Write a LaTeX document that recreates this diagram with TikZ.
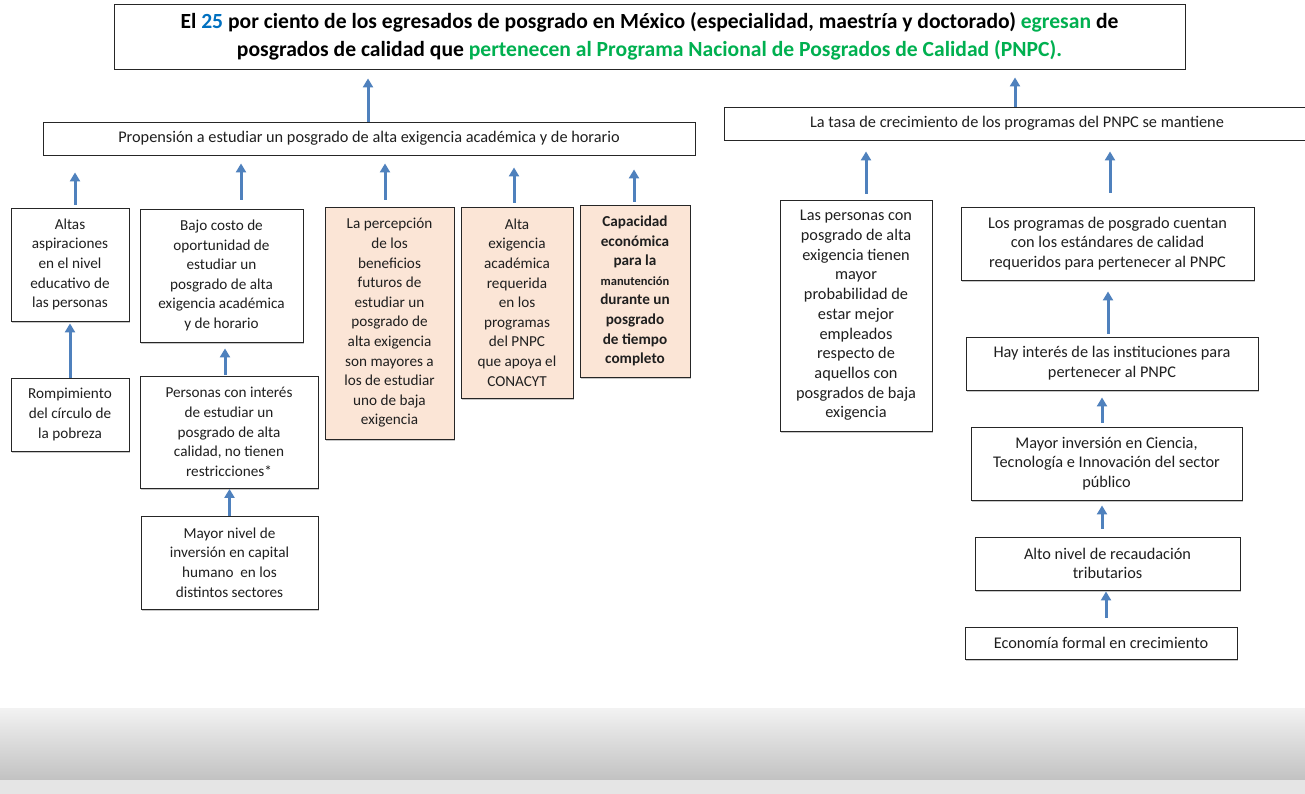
\documentclass[tikz,border=0pt]{standalone}
\usepackage{fontspec}
\setmainfont{Carlito}
\usetikzlibrary{arrows.meta,shadows}
\definecolor{arrowblue}{RGB}{79,129,189}
\definecolor{peach}{RGB}{251,229,214}
\definecolor{tblue}{RGB}{0,112,192}
\definecolor{tgreen}{RGB}{0,176,80}
\begin{document}
\begin{tikzpicture}[x=1pt,y=-1pt,
  box/.style={draw=black!85, line width=0.9pt, fill=white, inner sep=0pt, align=center,
    text=black!88, drop shadow={shadow xshift=1pt, shadow yshift=-1.5pt, fill=black, opacity=0.22}},
  small/.style={font=\fontsize{15.2}{19.6}\selectfont},
  mid/.style={font=\fontsize{16.3}{19.7}\selectfont},
  peachbox/.style={box, fill=peach},
  arr/.style={draw=arrowblue, line width=3pt, -{Triangle[width=10pt,length=9pt]}}
]
\useasboundingbox (0,0) rectangle (1305,794);
\fill[white] (0,0) rectangle (1305,794);
% bottom band
\shade[top color=black!5, bottom color=black!24] (0,708) rectangle (1305,780);
\fill[black!10] (0,780) rectangle (1305,794);

% title
\node[box, minimum width=1071, minimum height=65, text=black, font=\fontsize{21.6}{28}\selectfont\bfseries] (title) at (649.5,36.5)
 {El \textcolor{tblue}{25} por ciento de los egresados de posgrado en México (especialidad, maestría y doctorado) \textcolor{tgreen}{egresan} de\\
  posgrados de calidad que \textcolor{tgreen}{pertenecen al Programa Nacional de Posgrados de Calidad (PNPC).}};

% second level
\node[box, mid, minimum width=652, minimum height=33] (prop) at (369,138.5)
 {Propensión a estudiar un posgrado de alta exigencia académica y de horario};
\node[box, mid, minimum width=586, minimum height=33] (tasa) at (1017,123.5)
 {La tasa de crecimiento de los programas del PNPC se mantiene};

% left row 1
\node[box, small, minimum width=118, minimum height=113] (altas) at (70,264.5)
 {Altas\\aspiraciones\\en el nivel\\educativo de\\las personas};
\node[box, small, minimum width=163, minimum height=133] (bajo) at (221.5,275.5)
 {Bajo costo de\\oportunidad de\\estudiar un\\posgrado de alta\\exigencia académica\\y de horario};
\node[peachbox, small, minimum width=129, minimum height=232] (perc) at (389.5,323)
 {La percepción\\de los\\beneficios\\futuros de\\estudiar un\\posgrado de\\alta exigencia\\son mayores a\\los de estudiar\\uno de baja\\exigencia};
\node[peachbox, small, minimum width=112, minimum height=191] (alta) at (517,302.5)
 {Alta\\exigencia\\académica\\requerida\\en los\\programas\\del PNPC\\que apoya el\\CONACYT};
\node[peachbox, font=\fontsize{15.2}{19.6}\selectfont\bfseries, minimum width=110, minimum height=172] (cap) at (635,291)
 {Capacidad\\económica\\para la\\{\fontsize{12.5}{19.6}\selectfont manutención}\\durante un\\posgrado\\de tiempo\\completo};

% left lower
\node[box, small, minimum width=118, minimum height=73] (romp) at (70,414.5)
 {Rompimiento\\del círculo de\\la pobreza};
\node[box, small, minimum width=178, minimum height=112] (pers) at (229,432)
 {Personas con interés\\de estudiar un\\posgrado de alta\\calidad, no tienen\\restricciones*};
\node[box, small, minimum width=177, minimum height=93] (mnivel) at (229.5,562.5)
 {Mayor nivel de\\inversión en capital\\humano\ \ en los\\distintos sectores};

% right side
\node[box, mid, minimum width=152, minimum height=231] (laspers) at (856,315.5)
 {Las personas con\\posgrado de alta\\exigencia tienen\\mayor\\probabilidad de\\estar mejor\\empleados\\respecto de\\aquellos con\\posgrados de baja\\exigencia};
\node[box, mid, minimum width=293, minimum height=73] (losprog) at (1107.5,243.5)
 {Los programas de posgrado cuentan\\con los estándares de calidad\\requeridos para pertenecer al PNPC};
\node[box, mid, minimum width=292, minimum height=53] (hay) at (1112,363.5)
 {Hay interés de las instituciones para\\pertenecer al PNPC};
\node[box, mid, minimum width=271, minimum height=73] (minv) at (1106.5,463.5)
 {Mayor inversión en Ciencia,\\Tecnología e Innovación del sector\\público};
\node[box, mid, minimum width=265, minimum height=53] (alto) at (1107.5,563.5)
 {Alto nivel de recaudación\\tributarios};
\node[box, mid, minimum width=272, minimum height=32] (econ) at (1101,643)
 {Economía formal en crecimiento};

% arrows
\draw[arr, shorten >=9pt] ([xshift=-1pt]prop.north) -- ([xshift=-1pt]prop.north |- title.south);
\draw[arr, shorten >=8pt] ([xshift=-2pt]tasa.north) -- ([xshift=-2pt]tasa.north |- title.south);

\draw[arr, shorten <=3pt, shorten >=17pt] ([xshift=5pt]altas.north) -- ([xshift=5pt]altas.north |- prop.south);
\draw[arr, shorten <=9pt, shorten >=8pt] ([xshift=19.5pt]bajo.north) -- ([xshift=19.5pt]bajo.north |- prop.south);
\draw[arr, shorten <=7pt, shorten >=8pt] ([xshift=-4.5pt]perc.north) -- ([xshift=-4.5pt]perc.north |- prop.south);
\draw[arr, shorten <=4pt, shorten >=12pt] ([xshift=-3pt]alta.north) -- ([xshift=-3pt]alta.north |- prop.south);
\draw[arr, shorten <=3pt, shorten >=14pt] ([xshift=-1pt]cap.north) -- ([xshift=-1pt]cap.north |- prop.south);

\draw[arr, shorten >=2pt] (romp.north) -- (romp.north |- altas.south);
\draw[arr, shorten <=1pt, shorten >=6pt] ([xshift=-4pt]pers.north) -- ([xshift=-4pt]pers.north |- bajo.south);
\draw[arr, shorten >=0.5pt] (mnivel.north) -- (mnivel.north |- pers.south);

\draw[arr, shorten <=6pt, shorten >=11pt] ([xshift=10pt]laspers.north) -- ([xshift=10pt]laspers.north |- tasa.south);
\draw[arr, shorten <=14pt, shorten >=11pt] ([xshift=2.5pt]losprog.north) -- ([xshift=2.5pt]losprog.north |- tasa.south);
\draw[arr, shorten <=3pt, shorten >=11pt] ([xshift=-4pt]hay.north) -- ([xshift=-4pt]hay.north |- losprog.south);
\draw[arr, shorten <=4pt, shorten >=7pt] ([xshift=-4.5pt]minv.north) -- ([xshift=-4.5pt]minv.north |- hay.south);
\draw[arr, shorten <=8pt, shorten >=5pt] ([xshift=-5.5pt]alto.north) -- ([xshift=-5.5pt]alto.north |- minv.south);
\draw[arr, shorten <=9pt, shorten >=1pt] ([xshift=5pt]econ.north) -- ([xshift=5pt]econ.north |- alto.south);
\end{tikzpicture}
\end{document}
